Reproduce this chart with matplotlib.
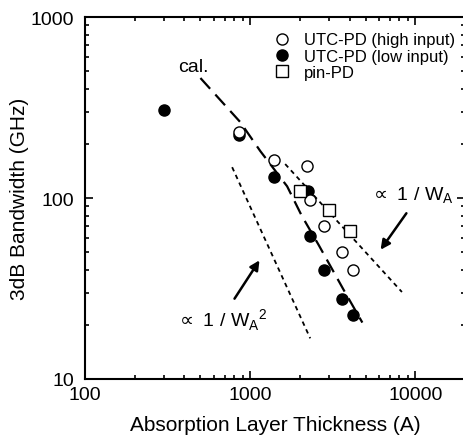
import matplotlib
matplotlib.use("Agg")
import matplotlib.pyplot as plt
import numpy as np

plt.rcParams['font.family'] = ['Liberation Sans', 'DejaVu Sans']

# Data
high_x = [860, 1400, 2200, 2300, 2800, 3600, 4200]
high_y = [232, 162, 150, 98, 70, 50, 40]
low_x = [300, 860, 1400, 2250, 2300, 2800, 3600, 4200]
low_y = [305, 222, 130, 110, 62, 40, 27.5, 22.5]
pin_x = [2000, 3000, 4000]
pin_y = [110, 86, 66]

cal_x = [500, 870, 1150, 1675, 2050, 2600, 3660, 4780]
cal_y = [460, 263, 182, 116, 80, 55, 31.4, 20.5]

wa_x = [1630, 8300]
wa_y = [154, 154 * 1630 / 8300]
wa2_x = [778, 2311]
wa2_y = [148, 148 * (778 / 2311) ** 2]

W, H = 463, 439
fig = plt.figure(figsize=(W / 100, H / 100), dpi=100)
ax = fig.add_axes([85 / W, 1 - 380 / H, (465 - 85) / W, (380 - 18) / H])
ax.set_xscale('log')
ax.set_yscale('log')
ax.set_xlim(100, 20000)
ax.set_ylim(10, 1000)

ax.plot(cal_x, cal_y, color='black', lw=1.6, dashes=(6.5, 3.5))
ax.plot(wa_x, wa_y, color='black', lw=1.3, dashes=(2.5, 2.2))
ax.plot(wa2_x, wa2_y, color='black', lw=1.3, dashes=(2.5, 2.2))

ax.plot(low_x, low_y, 'o', ms=8, mfc='black', mec='black', mew=1, label='UTC-PD (low input)', zorder=3)
ax.plot(high_x, high_y, 'o', ms=8, mfc='white', mec='black', mew=1, label='UTC-PD (high input)', zorder=4)
ax.plot(pin_x, pin_y, 's', ms=8, mfc='white', mec='black', mew=1, label='pin-PD', zorder=4)

handles, labels = ax.get_legend_handles_labels()
order = [1, 0, 2]
ax.legend([handles[i] for i in order], [labels[i] for i in order], loc='upper right',
          bbox_to_anchor=(1.0, 0.985), frameon=False, fontsize=12, handletextpad=0.7,
          handlelength=1.2, labelspacing=0.08, borderaxespad=0.2)

fig.text(178 / W, 1 - 67 / H, 'cal.', fontsize=14, va='center', ha='left')

fig.text(412 / W, 1 - 196 / H, r'$\propto$ 1 / W$_\mathregular{A}$', fontsize=14, va='center', ha='center')
fig.text(222 / W, 1 - 320 / H, r'$\propto$ 1 / W$_\mathregular{A}$$^\mathregular{2}$', fontsize=14, va='center', ha='center')

def px(pxx, pyy):
    return fig.transFigure.transform((pxx / W, 1 - pyy / H))

ax.annotate('', xy=px(379, 253), xycoords='figure pixels',
            xytext=px(408, 212), textcoords='figure pixels',
            arrowprops=dict(arrowstyle='-|>', color='black', lw=1.8, mutation_scale=14))
ax.annotate('', xy=px(261, 259), xycoords='figure pixels',
            xytext=px(233, 302), textcoords='figure pixels',
            arrowprops=dict(arrowstyle='-|>', color='black', lw=1.8, mutation_scale=14))

ax.tick_params(which='both', direction='in', top=True, right=True, labelsize=14, width=1.2)
ax.tick_params(which='major', length=5.5)
ax.tick_params(which='minor', length=3)
ax.tick_params(axis='x', pad=5)
ax.tick_params(axis='y', pad=8)
ax.set_xticks([100, 1000, 10000])
ax.set_xticklabels(['100', '1000', '10000'])
ax.set_yticks([10, 100, 1000])
ax.set_yticklabels(['10', '100', '1000'])
for s in ax.spines.values():
    s.set_linewidth(1.5)

ax.set_xlabel('Absorption Layer Thickness (A)', fontsize=15, labelpad=9)
ax.set_ylabel('3dB Bandwidth (GHz)', fontsize=15, labelpad=1)

fig.savefig('out.png', dpi=100)
